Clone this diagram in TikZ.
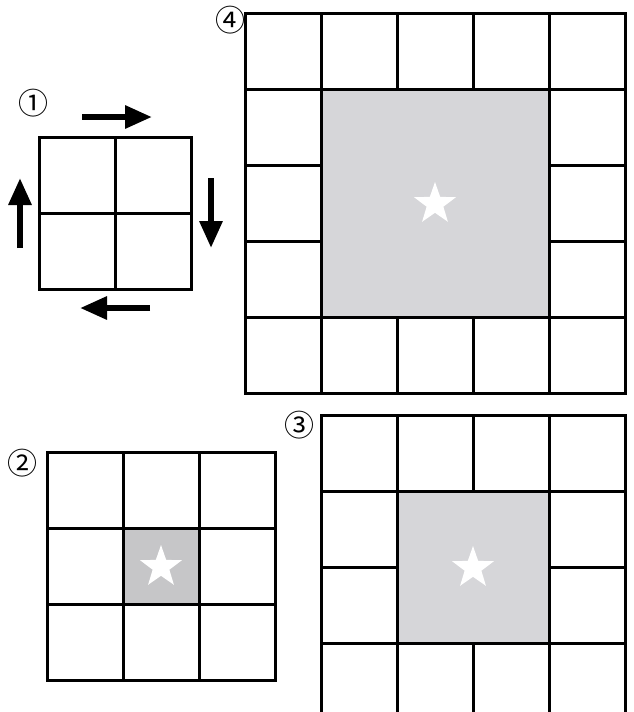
\documentclass[tikz,border=0pt]{standalone}
\usepackage{fontspec}
\newfontfamily\circfont{Noto Sans CJK JP}
\usetikzlibrary{shapes.geometric,arrows.meta}
\definecolor{cellgray}{RGB}{214,214,217}
\definecolor{cellgraydark}{RGB}{198,198,200}
\tikzset{
 cellline/.style={line width=3pt, line cap=rect},
 turnarrow/.style={line width=6pt, -{Triangle[length=27pt,width=22pt]}},
 whitestar/.style={star, star points=5, star point ratio=2.5, minimum size=44pt, inner sep=0pt, fill=white},
 numlabel/.style={font=\circfont\fontsize{30}{30}\selectfont, inner sep=0pt}
}
\begin{document}
\begin{tikzpicture}[x=1pt,y=-1pt]
 \useasboundingbox (0,0) rectangle (633,712);
 \clip (0,0) rectangle (633,712);
 % grid 1 with the turning arrows
 \node[numlabel] (lab1) at (34,103) {①};
 \foreach \i in {0,...,2} {
  \draw[cellline] (39+76*\i,137) -- ++(0,152);
  \draw[cellline] (39,137+76*\i) -- ++(152,0);
 }
 \coordinate (top a) at (82,117);   \coordinate (top b) at (152,117);
 \coordinate (right a) at (211,178); \coordinate (right b) at (211,248);
 \coordinate (bot a) at (150,308);   \coordinate (bot b) at (80,308);
 \coordinate (left a) at (20,248);   \coordinate (left b) at (20,178);
 \draw[turnarrow] (top a) -- (top b);
 \draw[turnarrow] (right a) -- (right b);
 \draw[turnarrow] (bot a) -- (bot b);
 \draw[turnarrow] (left a) -- (left b);
 % grid 4
 \node[numlabel] (lab4) at (230,20) {④};
 \foreach \i in {0,...,5} {
  \draw[cellline] (245+76*\i,13) -- ++(0,380);
  \draw[cellline] (245,13+76*\i) -- ++(380,0);
 }
 \fill[cellgray] (321,89) rectangle (549,317);
 \draw[cellline] (321,89) rectangle (549,317);
 \node[whitestar] (star4) at (435,204) {};
 % grid 2
 \node[numlabel] (lab2) at (23,463) {②};
 \foreach \i in {0,...,3} {
  \draw[cellline] (47+76*\i,452) -- ++(0,228);
  \draw[cellline] (47,452+76*\i) -- ++(228,0);
 }
 \fill[cellgraydark] (123,528) rectangle (199,604);
 \draw[cellline] (123,528) rectangle (199,604);
 \node[whitestar] (star2) at (161,567) {};
 % grid 3
 \node[numlabel] (lab3) at (299,425) {③};
 \foreach \i in {0,...,4} {
  \draw[cellline] (321+76*\i,415) -- ++(0,304);
  \draw[cellline] (321,415+76*\i) -- ++(304,0);
 }
 \fill[cellgray] (397,491) rectangle (549,643);
 \draw[cellline] (397,491) rectangle (549,643);
 \node[whitestar] (star3) at (473,568) {};
\end{tikzpicture}
\end{document}
